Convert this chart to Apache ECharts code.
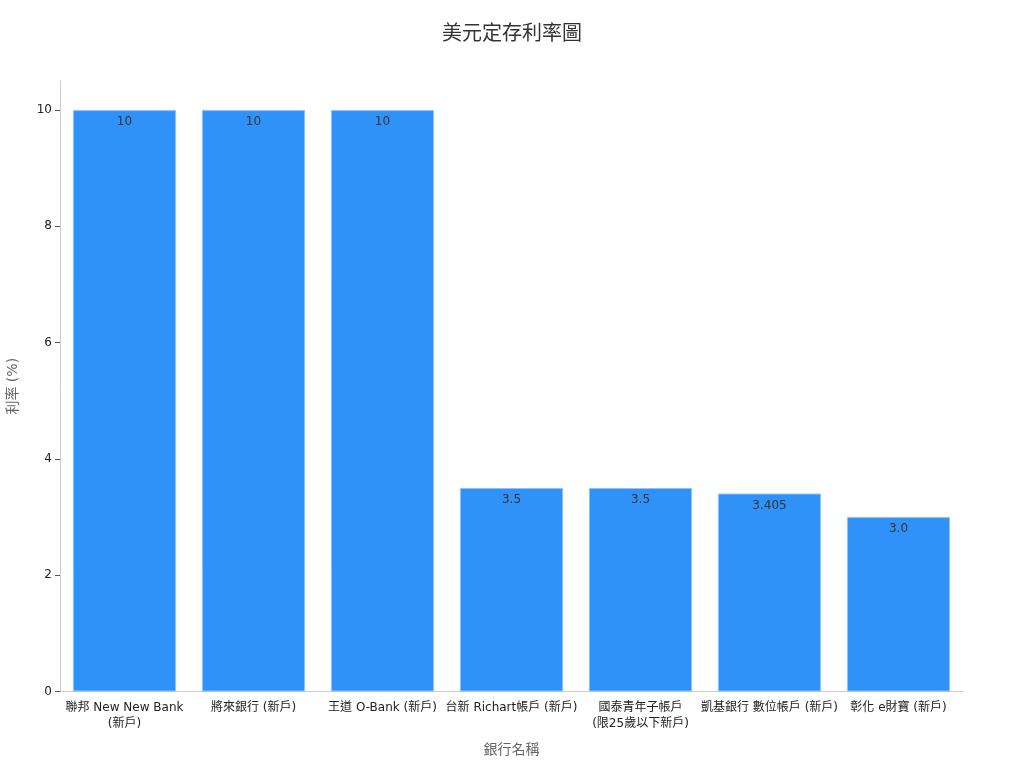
<!DOCTYPE html>
<html>
<head>
<meta charset="utf-8">
<script src="https://cdn.jsdelivr.net/npm/echarts@6/dist/echarts.min.js"></script>
<style>html,body{margin:0;padding:0;background:#fff}#c{width:1024px;height:768px}</style>
</head>
<body>
<div id="c"></div>
<script>
const categories = ['聯邦 New New Bank\n(新戶)', '將來銀行 (新戶)', '王道 O-Bank (新戶)', '台新 Richart帳戶 (新戶)', '國泰青年子帳戶\n(限25歲以下新戶)', '凱基銀行 數位帳戶 (新戶)', '彰化 e財寶 (新戶)'];
const rates = [10, 10, 10, 3.5, 3.5, 3.405, 3.0];
const rateLabels = ['10', '10', '10', '3.5', '3.5', '3.405', '3.0'];
const yTicks = [0, 2, 4, 6, 8, 10];

const font = '"DejaVu Sans", "Noto Sans CJK TC", sans-serif';
const chart = echarts.init(document.getElementById('c'));
chart.setOption({
  animation: false,
  textStyle: { fontFamily: font },
  title: {
    text: '美元定存利率圖', left: 'center', top: 20,
    textStyle: { fontFamily: font, fontSize: 20, fontWeight: 'normal', color: '#333' }
  },
  grid: { left: 60, right: 61, top: 81, bottom: 76.5, containLabel: false, outerBoundsMode: 'none' },
  xAxis: {
    type: 'category', data: categories,
    name: '銀行名稱', nameLocation: 'middle', nameGap: 52,
    nameTextStyle: { fontFamily: font, fontSize: 14, color: '#666' },
    axisLine: { lineStyle: { color: '#ccc' } },
    axisTick: { alignWithLabel: true, length: 5, lineStyle: { color: '#555' } },
    axisLabel: { interval: 0, color: '#222', fontSize: 12, margin: 8, lineHeight: 16 }
  },
  yAxis: {
    type: 'value', min: 0, max: 10.5,
    name: '利率 (%)', nameLocation: 'middle', nameGap: 40, nameRotate: 90,
    nameTextStyle: { fontFamily: font, fontSize: 14, color: '#666' },
    axisLine: { show: true, lineStyle: { color: '#ccc' } },
    axisTick: { show: true, length: 5, customValues: yTicks, lineStyle: { color: '#555' } },
    axisLabel: { customValues: yTicks, color: '#222', fontSize: 12, margin: 8 },
    splitLine: { show: false }
  },
  series: [{
    type: 'bar', data: rates, barWidth: '80%',
    itemStyle: { color: '#2f92f8', borderColor: '#8ec4fb', borderWidth: 1 },
    label: {
      show: true, position: 'insideTop', distance: 6, color: '#333', fontSize: 12,
      formatter: p => rateLabels[p.dataIndex]
    }
  }]
});
</script>
</body>
</html>
